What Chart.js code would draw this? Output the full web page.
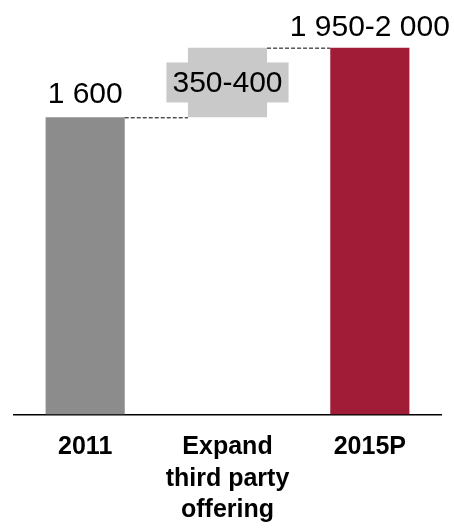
<!DOCTYPE html>
<html>
<head>
<meta charset="utf-8">
<script src="https://cdn.jsdelivr.net/npm/chart.js@4"></script>
<style>
  html, body { margin: 0; padding: 0; background: #fff; }
  #wrap { width: 454px; height: 532px; }
</style>
</head>
<body>
<div id="wrap"><canvas id="chart" width="454" height="532"></canvas></div>
<script>
const categories = ["2011", ["Expand", "third party", "offering"], "2015P"];
const barStart = [0, 1600, 0];
const barEnd = [1600, 1975, 1975];
const valueLabels = ["1 600", "350-400", "1 950-2 000"];
const barColors = ["#8c8c8c", "#c9c9c9", "#a11c37"];

const FONT = "Arial, 'Liberation Sans', sans-serif";

// labels above bars, box on the middle step, dashed connectors
const waterfallDecor = {
  id: "waterfallDecor",
  afterDatasetsDraw(chart) {
    const ctx = chart.ctx;
    const bars = chart.getDatasetMeta(0).data;
    ctx.save();

    // connectors
    ctx.strokeStyle = "#000";
    ctx.lineWidth = 1;
    ctx.setLineDash([4, 2]);
    for (let i = 0; i < bars.length - 1; i++) {
      const a = bars[i], b = bars[i + 1];
      const yTop = Math.min(a.y, a.base);
      ctx.beginPath();
      ctx.moveTo(a.x + a.width / 2, yTop + 0.5);
      ctx.lineTo(b.x - b.width / 2, yTop + 0.5);
      ctx.stroke();
    }
    ctx.setLineDash([]);

    ctx.font = "30px " + FONT;
    ctx.fillStyle = "#000";
    ctx.textAlign = "center";
    bars.forEach((bar, i) => {
      const text = valueLabels[i];
      if (i === 1) {
        const midY = (bar.y + bar.base) / 2;
        const w = ctx.measureText(text).width + 12;
        ctx.fillStyle = barColors[1];
        ctx.fillRect(bar.x - w / 2, midY - 20, w, 40);
        ctx.fillStyle = "#000";
        ctx.textBaseline = "middle";
        ctx.fillText(text, bar.x, midY + 1);
      } else {
        ctx.textBaseline = "alphabetic";
        ctx.fillText(text, bar.x, bar.y - (i === 0 ? 14 : 12));
      }
    });
    ctx.restore();
  }
};

new Chart(document.getElementById("chart"), {
  type: "bar",
  data: {
    labels: categories,
    datasets: [{
      data: barStart.map((s, i) => [s, barEnd[i]]),
      backgroundColor: barColors,
      borderWidth: 0,
      barPercentage: 0.556,
      categoryPercentage: 1.0
    }]
  },
  options: {
    responsive: false,
    animation: false,
    layout: { padding: { top: 43, left: 14, right: 13, bottom: -11 } },
    plugins: { legend: { display: false }, tooltip: { enabled: false } },
    scales: {
      x: {
        grid: { display: false, drawTicks: false },
        border: { display: true, color: "#000", width: 1.5 },
        ticks: {
          color: "#000",
          padding: 17,
          font: { family: FONT, size: 25, weight: "bold", lineHeight: 1.26 }
        }
      },
      y: {
        display: false,
        min: 0,
        max: 2000
      }
    }
  },
  plugins: [waterfallDecor]
});
</script>
</body>
</html>
